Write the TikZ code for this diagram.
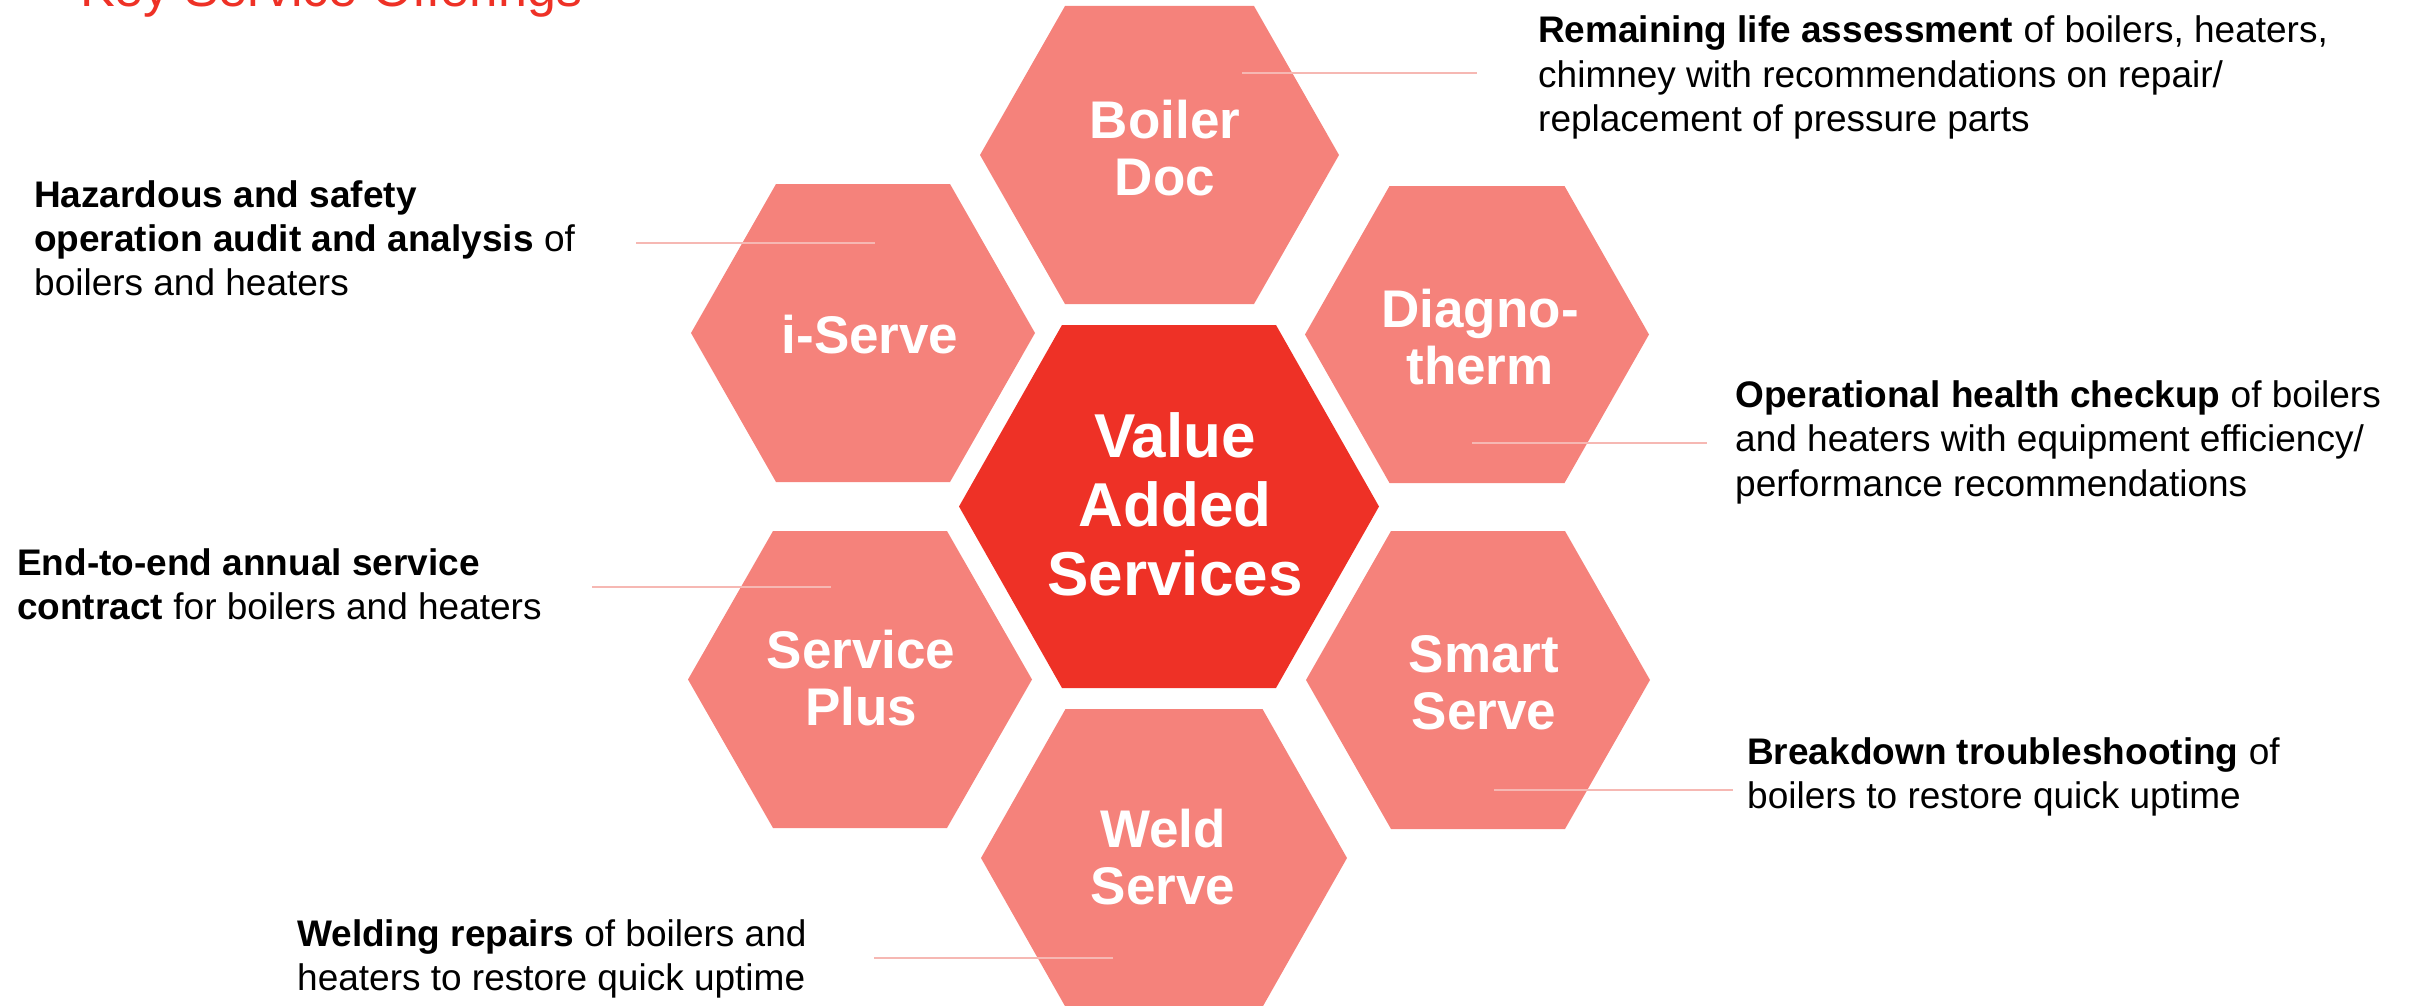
\documentclass[tikz,border=0pt]{standalone}
\usepackage{fontspec}
\setmainfont{Liberation Sans}

\definecolor{hexlight}{HTML}{F5827B}
\definecolor{hexdark}{HTML}{EE3126}
\definecolor{leader}{HTML}{F6B8B3}
\definecolor{titlered}{HTML}{EE3126}

% one centred line of zero width, and a stack whose baseline is its first line
\newcommand\ctrline[1]{\hbox to 0pt{\hss #1\hss}}
\newcommand\textstack[1]{\vtop{#1}}

\tikzset{
  % flat-topped hexagon: half width, half top edge, half height, fill colour
  pics/hexa/.style n args={4}{code={
    \fill[#4] ({-#1},0) -- ({-#2},#3) -- (#2,#3) -- (#1,0)
              -- (#2,{-#3}) -- ({-#2},{-#3}) -- cycle;
  }},
  hexlabel/.style={anchor=base, inner sep=0pt, text=white,
    font=\bfseries\fontsize{53}{57}\selectfont},
  corelabel/.style={anchor=base, inner sep=0pt, text=white,
    font=\bfseries\fontsize{62}{69}\selectfont},
  desc/.style={anchor=base west, inner sep=0pt, text=black,
    font=\fontsize{37}{44.5}\selectfont},
  leaderline/.style={draw=leader, line width=1.8pt},
  titletext/.style={anchor=base west, inner sep=0pt, text=titlered,
    font=\fontsize{52}{60}\selectfont},
}

\begin{document}
\begin{tikzpicture}[x=1pt,y=-1pt]
\useasboundingbox (0,0) rectangle (2412,1006);
\clip (0,0) rectangle (2412,1006);

% heading
\node[titletext] (title) at (80,7) {Key Service Offerings};

% honeycomb
\pic at (1159.5,155)  {hexa={179.5}{94.5}{149}{hexlight}};
\pic at (863,333)     {hexa={172}{87}{149}{hexlight}};
\pic at (1477,334.5)  {hexa={172}{87.5}{148.5}{hexlight}};
\pic at (1169,506.5)  {hexa={210}{107}{181.5}{hexdark}};
\pic at (860,679.5)   {hexa={172}{87}{148.5}{hexlight}};
\pic at (1478,680)    {hexa={172}{87}{149}{hexlight}};
\pic at (1164,858)    {hexa={183}{98.5}{149}{hexlight}};

% leader lines
\coordinate (bdA) at (1242,73);  \coordinate (bdB) at (1477,73);
\coordinate (isA) at (636,243);  \coordinate (isB) at (875,243);
\coordinate (dtA) at (1472,443); \coordinate (dtB) at (1707,443);
\coordinate (spA) at (592,587);  \coordinate (spB) at (831,587);
\coordinate (ssA) at (1494,790); \coordinate (ssB) at (1733,790);
\coordinate (wsA) at (874,958);  \coordinate (wsB) at (1113,958);
\draw[leaderline] (bdA) -- (bdB);
\draw[leaderline] (isA) -- (isB);
\draw[leaderline] (dtA) -- (dtB);
\draw[leaderline] (spA) -- (spB);
\draw[leaderline] (ssA) -- (ssB);
\draw[leaderline] (wsA) -- (wsB);

% hexagon labels
\node[hexlabel] (boilerdoc) at (1165,139) {\textstack{\ctrline{Boiler}\ctrline{Doc}}};
\node[hexlabel] (iserve) at (870,353) {\textstack{\ctrline{i-Serve}}};
\node[hexlabel] (diagno) at (1480,327) {\textstack{\ctrline{Diagno-}\ctrline{therm}}};
\node[corelabel] (vas) at (1175,457) {\textstack{\ctrline{Value}\ctrline{Added}\ctrline{Services}}};
\node[hexlabel] (serviceplus) at (861,668) {\textstack{\ctrline{Service}\ctrline{Plus}}};
\node[hexlabel] (smartserve) at (1484,672) {\textstack{\ctrline{Smart}\ctrline{Serve}}};
\node[hexlabel] (weldserve) at (1163,847) {\textstack{\ctrline{Weld}\ctrline{Serve}}};

% descriptions
\node[desc] (dBoiler) at (1538,43) {\textstack{%
  \hbox{\textbf{Remaining life assessment} of boilers, heaters,}%
  \hbox{chimney with recommendations on repair/}%
  \hbox{replacement of pressure parts}}};
\node[desc] (dIserve) at (34,207) {\textstack{%
  \hbox{\textbf{Hazardous and safety}}%
  \hbox{\textbf{operation audit and analysis} of}%
  \hbox{boilers and heaters}}};
\node[desc] (dDiagno) at (1735,407) {\textstack{%
  \hbox{\textbf{Operational health checkup} of boilers}%
  \hbox{and heaters with equipment efficiency/}%
  \hbox{performance recommendations}}};
\node[desc] (dServicePlus) at (17,575) {\textstack{%
  \hbox{\textbf{End-to-end annual service}}%
  \hbox{\textbf{contract} for boilers and heaters}}};
\node[desc] (dSmart) at (1747,764) {\textstack{%
  \hbox{\textbf{Breakdown troubleshooting} of}%
  \hbox{boilers to restore quick uptime}}};
\node[desc] (dWeld) at (297,946) {\textstack{%
  \hbox{\textbf{Welding repairs} of boilers and}%
  \hbox{heaters to restore quick uptime}}};
\end{tikzpicture}
\end{document}
